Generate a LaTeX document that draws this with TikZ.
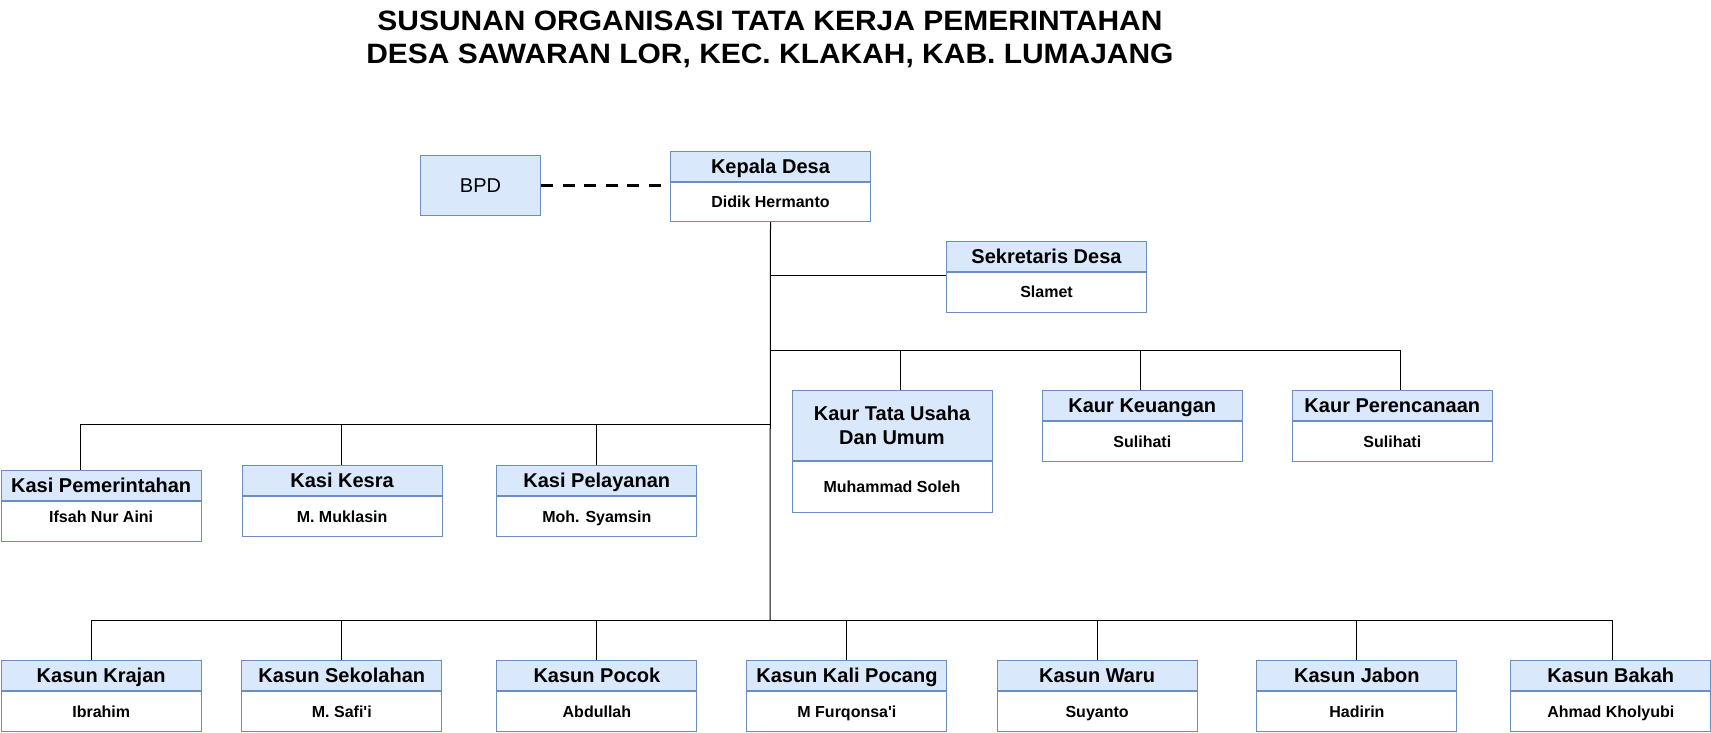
\documentclass[tikz,border=0pt]{standalone}
\usepackage{fontspec}
\setmainfont{Liberation Sans}
\usepackage{graphicx}
\definecolor{hdrfill}{HTML}{DAE8FC}
\definecolor{hdrline}{HTML}{6C8EBF}
\begin{document}
\begin{tikzpicture}[x=1pt,y=-1pt,
  boxbase/.style={draw=hdrline, line width=1pt, minimum width=200pt, inner sep=0pt},
  hdr/.style={boxbase, fill=hdrfill, minimum height=30pt, anchor=north west,
    font=\fontsize{20}{24}\selectfont\bfseries},
  capc/.style={text height=14.3pt, text depth=0pt},
  hdrone/.style={hdr, capc},
  bdy/.style={boxbase, fill=white, minimum height=40pt, anchor=north,
    font=\fontsize{16}{19}\selectfont\bfseries, text height=11.5pt, text depth=0pt},
  conn/.style={line width=1pt, draw=black},
  titletext/.style={font=\fontsize{28}{34}\selectfont\bfseries, anchor=base, inner sep=0pt}
]
\useasboundingbox (0,0) rectangle (1711,732);

% title
\node[titletext] (t1) at (770,30) {\scalebox{1.07}[1]{SUSUNAN ORGANISASI TATA KERJA PEMERINTAHAN}};
\node[titletext] (t2) at (770,63.3) {\scalebox{1.07}[1]{DESA SAWARAN LOR, KEC. KLAKAH, KAB. LUMAJANG}};

% Kepala Desa and BPD
\node[hdrone] (kdH) at (670,150.5) {Kepala Desa};
\node[bdy, minimum height=39.5pt] (kdB) at (kdH.south) {Didik Hermanto};
\node[draw=hdrline, fill=hdrfill, line width=1pt, inner sep=0pt, minimum width=120pt,
  minimum height=60pt, anchor=north west, font=\fontsize{20}{24}\selectfont, capc] (bpd) at (420,155) {BPD};
\draw[line width=3pt, dash pattern=on 12pt off 9.6pt] (bpd.east) -- (bpd.east -| kdH.west);

% Sekretaris
\node[hdrone] (sdH) at (946,240.5) {Sekretaris Desa};
\node[bdy] (sdB) at (sdH.south) {Slamet};

% Kaur
\node[hdr, minimum height=70pt, align=center] (tuH) at (791.5,390.3) {Kaur Tata Usaha\\Dan Umum};
\node[bdy, minimum height=50.4pt] (tuB) at (tuH.south) {Muhammad Soleh};
\node[hdrone] (keH) at (1041.8,390.3) {Kaur Keuangan};
\node[bdy] (keB) at (keH.south) {Sulihati};
\node[hdrone] (peH) at (1291.8,390.3) {Kaur Perencanaan};
\node[bdy] (peB) at (peH.south) {Sulihati};

% Kasi
\node[hdrone] (pmH) at (0.7,470.3) {Kasi Pemerintahan};
\node[bdy, text depth=10pt] (pmB) at (pmH.south) {Ifsah Nur Aini};
\node[hdrone] (ksH) at (241.6,465.3) {Kasi Kesra};
\node[bdy] (ksB) at (ksH.south) {M. Muklasin};
\node[hdrone] (plH) at (496.3,465.3) {Kasi Pelayanan};
\node[bdy] (plB) at (plH.south) {Moh. Syamsin};

% Kasun
\node[hdrone] (k1H) at (0.7,660.3) {Kasun Krajan};
\node[bdy] (k1B) at (k1H.south) {Ibrahim};
\node[hdrone] (k2H) at (241.3,660.3) {Kasun Sekolahan};
\node[bdy] (k2B) at (k2H.south) {M. Safi\textquotesingle i};
\node[hdrone] (k3H) at (496.4,660.3) {Kasun Pocok};
\node[bdy] (k3B) at (k3H.south) {Abdullah};
\node[hdrone] (k4H) at (746.4,660.3) {Kasun Kali Pocang};
\node[bdy] (k4B) at (k4H.south) {M Furqonsa\textquotesingle i};
\node[hdrone] (k5H) at (996.6,660.3) {Kasun Waru};
\node[bdy] (k5B) at (k5H.south) {Suyanto};
\node[hdrone] (k6H) at (1256.4,660.3) {Kasun Jabon};
\node[bdy] (k6B) at (k6H.south) {Hadirin};
\node[hdrone] (k7H) at (1510.3,660.3) {Kasun Bakah};
\node[bdy] (k7B) at (k7H.south) {Ahmad Kholyubi};

% connectors
\coordinate (j1) at (770,275);
\coordinate (j2) at (770,350.3);
\coordinate (j3) at (770,424.5);
\coordinate (jb) at (770,620.3);
\draw[conn] (kdB.south) -- (jb);
\draw[conn] (j1) -- (j1 -| sdB.west);
\draw[conn] (j2) -| ([xshift=8.6pt]tuH.north);
\draw[conn] (j2) -| ([xshift=-1.5pt]keH.north);
\draw[conn] (j2) -| ([xshift=8.3pt]peH.north);
\draw[conn] (j3) -| ([xshift=-20.4pt]pmH.north);
\draw[conn] (j3) -| ([xshift=-0.9pt]ksH.north);
\draw[conn] (j3) -| (plH.north);
\draw[conn] (jb) -| ([xshift=-10.2pt]k1H.north);
\draw[conn] (jb) -| (k2H.north);
\draw[conn] (jb) -| (k3H.north);
\draw[conn] (jb) -| (k4H.north);
\draw[conn] (jb) -| (k5H.north);
\draw[conn] (jb) -| (k6H.north);
\draw[conn] (jb) -| ([xshift=1.3pt]k7H.north);
\end{tikzpicture}
\end{document}
